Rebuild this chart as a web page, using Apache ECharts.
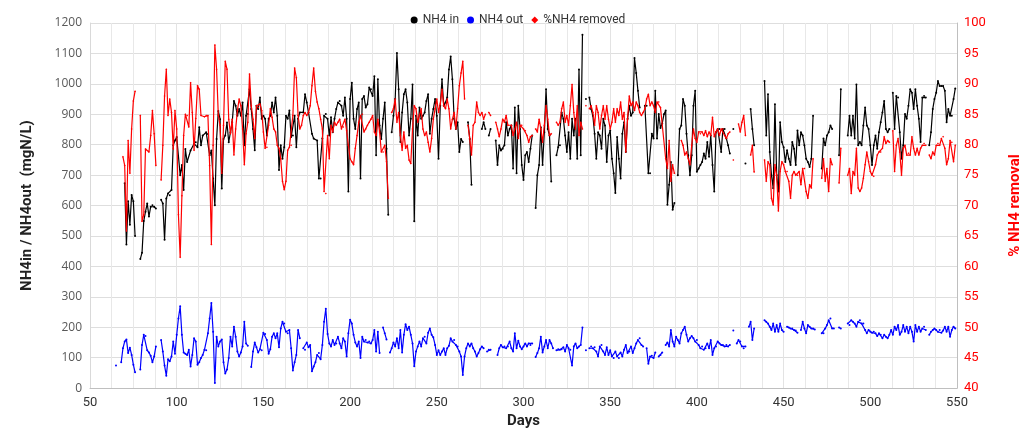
<!DOCTYPE html>
<html><head><meta charset="utf-8">
<script src="https://cdn.jsdelivr.net/npm/echarts@6/dist/echarts.min.js"></script>
<style>html,body{margin:0;padding:0;background:#fff}#c{width:1036px;height:434px}</style>
</head><body><div id="c"></div>
<script>
// ---- data: [day, value]; null = no measurement (line break) ----
const nh4In = [
[70,673],[71,472],[72,614],[73,537],[74,635],[75,614],[76,500],[77,null],
[79,424],[80,445],[81,549],[82,580],[83,607],[84,564],[85,596],[86,601],[87,596],[88,590],[89,null],
[91,619],[92,607],[93,488],[94,623],[95,640],[96,634],[97,651],[98,798],[99,814],[100,825],[102,700],[103,733],[104,651],[105,786],[106,743],[108,781],[110,803],[111,808],[112,792],[113,857],[114,798],[115,830],[117,841],[118,835],[119,765],[120,781],[121,689],[122,601],[123,819],[124,911],[125,884],[126,656],[127,819],[128,830],[129,873],[130,808],
[131,841],[132,874],[133,944],[134,928],[135,895],[136,917],[137,895],[138,939],[139,798],[140,895],[141,901],[142,982],[143,917],[144,852],[145,782],[146,928],[147,917],[148,955],[149,885],[150,895],[151,885],[152,830],[153,885],[154,895],[155,939],[156,906],[157,955],[158,895],[159,717],[160,798],[161,754],[162,792],[163,895],[164,885],[165,912],[166,825],[167,830],[168,895],[169,792],[170,885],[171,906],[173,906],[174,966],[175,939],[176,906],[178,836],[179,820],[181,814],[182,689],[183,689],[184,820],[185,895],[186,901],[187,885],[188,830],[189,890],[190,841],[191,885],[192,917],[193,939],[194,944],[195,928],[196,895],[197,955],[198,885],[199,646],[200,950],[201,1004],[202,885],[203,852],[204,917],[205,939],[206,689],[207,950],[208,960],[209,922],[210,933],[211,988],[212,982],[213,960],[214,1025],
[215,765],[216,1015],[217,863],[218,819],[219,885],[220,939],[221,787],[222,570],[223,null],[224,841],[225,895],[226,950],[227,1101],[228,982],[229,809],[230,906],[231,966],[232,982],[233,939],[234,830],[235,885],[236,998],[237,548],[238,895],[239,830],[240,922],[241,885],[242,895],[243,906],[244,944],[245,966],[246,836],[247,885],[248,917],[249,950],[250,895],[251,754],[252,928],[253,1015],[254,928],[255,939],[256,955],[257,1047],[258,1090],[259,1015],[260,885],[261,852],[262,874],[263,776],[264,819],[265,809],[266,null],[268,874],[269,819],[270,668],[271,null],[276,852],[277,874],[278,852],[279,null],[280,830],[281,852],[282,null],
[284,814],[285,733],[286,798],[287,781],[288,787],[289,798],[290,874],[291,830],[292,852],[293,863],[294,722],[295,922],[296,706],[297,928],[298,852],[299,733],[300,684],[301,765],[302,776],[303,743],[304,787],[305,830],[306,null],[307,592],[308,700],[309,733],[310,857],[311,733],[312,841],[313,982],[314,852],[315,830],[316,679],[317,null],
[319,765],[320,792],[321,798],[322,906],[323,885],[324,830],[325,776],[326,841],[327,754],[328,885],[329,830],[330,885],[331,754],[332,1047],[333,765],[334,1161],[335,null],[336,950],[337,null],
[338,955],[339,917],[340,895],[341,836],[342,754],[343,841],[344,830],[345,787],[346,885],[347,863],[348,743],[349,830],[350,847],[351,754],[352,706],[353,641],[354,825],[355,754],[356,689],[357,836],[358,874],[359,776],[360,885],[361,928],[362,895],[363,906],[364,1085],[365,1036],[366,977],[367,922],[368,null],
[370,928],[371,928],[372,706],[373,706],[374,836],[375,820],[376,977],[377,820],[378,901],[379,855],[380,870],[381,900],[382,912],[383,603],[384,668],[385,743],[386,586],[387,608],[388,null],
[389,700],[390,852],[391,863],[392,950],[393,928],[394,836],[395,765],[396,700],[397,765],[398,928],[399,977],[400,711],[401,722],[402,733],[403,743],[404,771],[405,754],[406,809],[407,760],[408,830],[409,733],[410,646],[411,841],[412,852],[413,852],[414,776],[415,852],[416,852],[417,820],[418,798],[419,771],[420,null],[421,852],[422,null],[428,738],[429,null],[431,917],[432,852],[433,798],[434,null],
[439,1009],[440,830],[441,966],[442,776],[443,700],[444,657],[445,933],[446,700],[447,646],[448,874],[449,809],[450,792],[451,743],[452,782],[453,754],[454,733],[455,809],[456,787],[457,733],[458,847],[459,798],[460,841],[461,830],[462,798],[463,754],[464,743],[465,727],[466,754],[467,895],[468,null],
[472,722],[473,820],[474,798],[475,830],[476,841],[477,863],[478,852],[479,null],[482,765],[483,982],[484,null],[487,830],[488,895],[489,830],[490,895],[491,820],[492,998],[493,798],[494,809],[495,798],[496,863],[497,922],[498,863],[499,852],[500,798],[501,733],[502,798],[503,830],[504,787],[505,841],[506,874],[507,906],[508,944],[509,852],[510,841],[511,852],[512,null],
[513,971],[514,852],[515,960],[516,955],[517,841],[518,754],[519,798],[520,901],[521,885],[522,928],[523,982],[524,971],[525,917],[526,982],[527,928],[528,885],[529,809],[530,955],[531,960],[532,955],[533,null],
[534,798],[535,841],[536,917],[537,950],[538,971],[539,1009],[540,993],[541,993],[542,993],[543,977],[544,874],[545,917],[546,895],[547,895],[548,950],[549,985]
];

const nh4Out = [
[65,74],[66,null],[68,85],[69,131],[70,153],[71,160],[72,115],[73,133],[74,109],[75,77],[76,52],[77,null],
[79,61],[80,142],[81,175],[82,171],[83,124],[84,117],[85,106],[86,85],[87,104],[88,137],[89,null],
[91,158],[92,120],[93,74],[94,41],[95,95],[96,88],[97,104],[98,153],[99,113],[100,175],[101,229],[102,269],[103,175],[104,117],[105,113],[106,109],[107,126],[108,71],[109,109],[110,164],[111,153],[112,77],[113,85],[114,99],[115,109],[116,126],[117,124],[118,180],[119,229],[120,280],[121,185],[122,17],[123,169],[124,137],[125,153],[126,160],[127,85],[128,48],[129,61],[130,99],[131,169],[132,137],[133,202],[134,169],[135,120],[136,104],[137,117],[138,137],[139,218],[140,147],[141,139],[142,null],
[143,69],[144,120],[145,150],[146,134],[147,117],[148,128],[149,124],[150,182],[151,178],[152,158],[153,113],[154,128],[155,169],[156,180],[157,164],[158,180],[159,134],[160,196],[161,218],[162,212],[163,185],[164,180],[165,191],[166,131],[167,58],[168,85],[169,109],[170,191],[171,164],[172,null],
[173,131],[174,126],[175,150],[176,134],[177,142],[178,55],[179,71],[180,85],[181,109],[182,115],[183,95],[184,142],[185,218],[186,261],[187,178],[188,147],[189,137],[190,158],[191,142],[192,147],[193,169],[194,147],[195,131],[196,164],[197,153],[198,104],[199,180],[200,225],[201,212],[202,175],[203,150],[204,137],[205,153],[206,99],[207,169],[208,153],[209,158],[210,150],[211,153],[212,147],[213,158],[214,191],[215,120],[216,185],[217,115],[218,null],
[219,199],[220,180],[221,160],[222,null],
[223,117],[224,131],[225,150],[226,137],[227,164],[228,131],[229,191],[230,117],[231,175],[232,210],[233,191],[234,202],[235,175],[236,147],[237,72],[238,120],[239,137],[240,153],[241,137],[242,164],[243,169],[244,147],[245,182],[246,196],[247,175],[248,167],[249,142],[250,109],[251,124],[252,109],[253,120],[254,131],[255,109],[256,131],[257,139],[258,164],[259,153],[260,158],[261,142],[262,137],[263,120],[264,104],[265,43],[266,104],[267,131],[268,147],[269,137],[270,147],[271,131],[272,120],[273,104],[274,115],[275,128],[276,137],[277,131],[278,null],
[279,120],[280,126],[281,126],[282,null],
[285,109],[286,131],[287,142],[288,134],[289,137],[290,131],[291,137],[292,153],[293,131],[294,120],[295,180],[296,131],[297,156],[298,137],[299,128],[300,137],[301,147],[302,137],[303,147],[304,142],[305,147],[306,null],
[307,102],[308,115],[309,131],[310,169],[311,117],[312,137],[313,158],[314,131],[315,158],[316,147],[317,131],[318,null],
[319,124],[320,128],[321,126],[322,128],[323,134],[324,120],[325,142],[326,131],[327,126],[328,74],[329,137],[330,147],[331,131],[332,137],[333,142],[334,199],[335,null],[336,124],[337,null],
[338,131],[339,137],[340,131],[341,134],[342,120],[343,104],[344,137],[345,142],[346,120],[347,109],[348,134],[349,109],[350,124],[351,104],[352,99],[353,120],[354,104],[355,99],[356,117],[357,104],[358,126],[359,142],[360,115],[361,120],[362,137],[363,115],[364,131],[365,147],[366,158],[367,164],[368,142],[369,137],[370,null],
[371,131],[372,80],[373,104],[374,106],[375,99],[376,117],[377,null],[378,104],[379,109],[380,117],[381,null],
[382,142],[383,150],[384,137],[385,191],[386,153],[387,137],[388,169],[389,158],[390,147],[391,180],[392,191],[393,202],[394,175],[395,153],[396,164],[397,171],[398,164],[399,153],[400,158],[401,142],[402,131],[403,137],[404,126],[405,131],[406,147],[407,131],[408,158],[409,109],[410,131],[411,137],[412,153],[413,147],[414,142],[415,142],[416,137],[417,142],[418,137],[419,142],[420,null],[421,189],[422,null],
[423,147],[424,158],[425,153],[426,137],[427,131],[428,137],[429,null],[430,202],[431,218],[432,158],[433,196],[434,null],
[439,223],[440,218],[441,212],[442,202],[443,191],[444,212],[445,185],[446,207],[447,185],[448,212],[449,191],[450,185],[451,null],
[452,202],[453,199],[454,196],[455,196],[456,191],[457,189],[458,182],[459,null],
[460,191],[461,218],[462,196],[463,180],[464,207],[465,202],[466,196],[467,196],[468,193],[469,null],
[472,180],[473,180],[474,196],[475,207],[476,223],[477,229],[478,196],[479,196],[480,null],
[482,199],[483,196],[484,null],
[487,212],[488,207],[489,223],[490,218],[491,212],[492,202],[493,218],[494,223],[495,212],[496,212],[497,191],[498,180],[499,191],[500,185],[501,182],[502,185],[503,180],[504,171],[505,180],[506,175],[507,164],[508,175],[509,169],[510,164],[511,175],[512,191],[513,175],[514,202],[515,191],[516,207],[517,175],[518,185],[519,207],[520,185],[521,202],[522,180],[523,202],[524,185],[525,153],[526,207],[527,185],[528,202],[529,185],[530,196],[531,202],[532,191],[533,null],
[534,175],[535,185],[536,191],[537,196],[538,191],[539,185],[540,191],[541,182],[542,189],[543,202],[544,185],[545,202],[546,169],[547,191],[548,202],[549,196]
];

const removal = [
[69,78.0],[70,76.6],[71,65.8],[72,80.7],[73,75.3],[74,82.6],[75,87.2],[76,88.8],[77,null],
[79,84.8],[80,67.4],[81,68.5],[82,79.3],[84,78.8],[85,81.5],[86,85.6],[87,81.8],[88,76.6],[89,null],
[91,74.2],[92,79.9],[93,88.0],[94,92.4],[95,84.8],[96,87.5],[97,85.3],[98,79.3],[99,85.6],[100,82.6],[101,68.5],[102,61.5],[103,71.6],[104,81.5],[105,85.0],[106,84.8],[107,82.9],[108,90.2],[109,85.3],[110,79.1],[111,84.3],[112,89.7],[113,89.1],[114,84.8],[116,84.6],[117,84.8],[118,84.8],[119,76.6],[120,63.6],[121,79.9],[122,96.4],[123,92.4],[124,84.8],[125,83.2],[126,75.3],[127,83.2],[128,93.7],[129,92.4],
[130,84.2],[131,81.8],[132,84.2],[133,78.3],[134,82.6],[135,85.6],[136,87.5],[137,86.4],[138,82.6],[139,76.7],[140,81.8],[141,83.7],[142,91.6],[143,86.4],[144,84.2],[145,81.0],[146,86.4],[147,86.1],[148,86.7],[149,85.6],[150,82.1],[151,79.4],[152,79.6],[153,83.2],[154,85.9],[155,84.5],[156,82.6],[157,82.1],[158,79.9],[159,79.4],[160,77.7],[161,74.0],[162,72.6],[163,74.0],[164,79.1],[165,79.6],[166,79.9],[167,84.8],[168,92.6],[169,91.0],[170,84.8],[171,82.6],[172,83.2],[173,84.8],[174,85.3],[175,84.8],[176,85.3],[177,86.4],[178,89.7],[179,92.6],[180,88.8],[181,87.0],[182,85.9],[183,84.2],[184,82.6],[185,72.3],[186,72.0],[187,81.5],[188,77.7],[189,83.2],[190,82.1],[191,83.7],[192,83.2],[193,83.7],[194,84.2],[195,82.6],[196,82.9],[197,84.2],[198,82.3],[199,79.9],[200,77.7],[201,77.2],[202,76.7],[203,79.4],[204,81.5],[205,83.7],[206,84.8],[207,85.0],[208,82.1],[209,82.6],[210,83.2],[211,83.7],[212,84.2],[213,84.8],[214,82.1],
[215,81.5],[216,84.2],[217,82.1],[218,78.8],[219,78.8],[220,79.9],[221,77.2],[222,71.2],[223,null],[224,85.3],[225,85.9],[226,87.5],[227,83.7],[228,85.3],[229,81.5],[230,79.1],[231,82.1],[232,79.4],[233,79.9],[234,77.5],[235,76.9],[236,82.6],[237,86.4],[238,85.9],[239,83.7],[240,84.8],[241,85.9],[242,82.6],[243,81.5],[244,82.1],[245,80.4],[246,78.8],[247,81.0],[248,84.2],[249,85.9],[250,87.5],[251,85.3],[252,86.7],[253,89.1],[254,86.4],[255,85.9],[256,87.5],[257,85.9],[258,82.6],[259,84.2],[260,85.3],[261,82.6],[262,85.9],[263,89.7],[264,91.8],[265,93.7],[266,87.5],[267,null],
[268,83.2],[269,81.0],[270,78.3],[271,83.2],[272,83.7],[273,87.0],[274,85.3],[275,84.8],[276,85.3],[277,84.2],[278,85.0],[279,null],[280,85.3],[281,84.8],[282,null],
[284,83.7],[285,82.6],[286,81.3],[287,82.6],[288,84.2],[289,83.7],[290,84.8],[291,83.2],[293,83.2],[294,81.5],[295,82.6],[296,83.7],[297,81.0],[298,83.2],[299,83.2],[300,82.6],[301,82.3],[302,81.5],[303,80.4],[304,81.3],[305,81.5],[306,null],[307,82.6],[308,82.1],[309,84.2],[310,82.6],[311,80.4],[312,83.2],[313,86.4],[314,84.2],[315,81.5],[316,81.8],[317,null],
[319,83.7],[320,83.2],[321,83.7],[322,85.9],[323,87.0],[324,83.7],[325,84.8],[326,83.2],[327,86.4],[328,89.9],[329,85.3],[330,82.6],[331,86.4],[332,81.5],[333,83.7],[334,82.6],[335,null],[336,86.4],[337,null],
[338,85.9],[339,86.4],[340,85.3],[341,83.2],[342,86.4],[343,85.3],[344,82.6],[345,84.8],[346,86.4],[347,84.2],[348,86.4],[349,84.2],[350,82.6],[351,83.7],[352,85.9],[353,83.7],[354,85.9],[355,84.8],[356,87.0],[357,84.2],[358,85.3],[359,78.8],[360,84.2],[361,88.0],[362,86.4],[363,87.0],[364,85.6],[365,87.0],[366,86.4],[367,85.3],[368,84.8],[369,85.3],[370,85.9],[371,87.5],[372,88.3],[373,86.4],[374,87.0],[375,86.4],[376,85.3],[377,87.0],[378,87.0],[379,86.1],
[382,77.7],[383,76.1],[384,80.7],[385,74.0],[386,76.7],[387,75.3],[388,null],
[391,80.7],[392,79.9],[393,78.3],[394,78.8],[395,77.7],[396,76.7],[397,79.9],[398,82.6],[399,81.0],[400,80.4],[401,82.1],[402,81.8],[403,82.1],[404,81.5],[405,82.3],[406,81.3],[407,82.1],[408,81.5],[409,84.5],[410,81.3],[411,82.1],[412,82.6],[413,81.5],[414,82.6],[415,82.6],[416,81.5],[417,81.0],[418,81.8],[419,82.1],[420,null],[421,77.5],[422,null],
[424,83.4],[425,82.1],[426,83.7],[427,84.8],[428,81.5],[429,null],[431,78.3],[432,79.9],[433,75.5],[434,null],
[439,77.5],[440,74.0],[441,77.2],[442,76.7],[443,71.2],[444,70.1],[445,76.7],[446,75.0],[447,69.1],[448,75.6],[449,77.2],[450,76.7],[451,75.6],[452,75.6],[453,74.0],[454,71.2],[455,75.0],[456,75.6],[457,75.0],[458,75.0],[459,75.6],[460,73.4],[461,76.1],[462,76.1],[463,72.3],[464,71.2],[465,73.4],[466,72.9],[467,77.7],[468,null],
[472,74.5],[473,77.7],[474,74.0],[475,76.1],[476,72.3],[477,77.7],[478,76.7],[479,null],[482,73.7],[483,79.4],[484,null],
[487,75.0],[488,76.1],[489,72.0],[490,75.6],[491,75.0],[492,79.4],[493,72.9],[494,72.3],[495,72.9],[496,74.5],[497,76.7],[498,78.8],[499,77.2],[500,75.6],[501,75.0],[502,74.8],[503,76.7],[504,78.3],[505,78.8],[506,78.8],[507,79.4],[508,81.3],[509,80.2],[510,80.7],[511,80.4],[512,null],
[513,82.3],[514,75.6],[515,79.9],[516,81.0],[517,78.8],[518,75.0],[519,79.4],[520,79.9],[521,78.3],[522,78.6],[523,78.3],[524,81.3],[525,79.4],[526,78.3],[527,79.4],[528,78.3],[529,79.4],[530,79.9],[531,80.2],[532,79.9],[533,null],
[534,78.3],[535,77.7],[536,78.8],[537,78.3],[538,79.9],[539,80.2],[540,79.9],[541,81.0],[542,81.3],[543,79.4],[544,76.7],[545,77.7],[546,80.7],[547,80.4],[548,77.2],[549,79.9]
];

const seriesNames = ['NH4 in', 'NH4 out', '%NH4 removed'];
const xRange = {min: 50, max: 550, step: 50};
const leftRange = {min: 0, max: 1200, step: 100};
const rightRange = {min: 40, max: 100, step: 5};

const toEc = arr => arr.map(p => [p[0], p[1] === null ? '-' : p[1]]);
const plain = v => String(v);
const FONT = 'Roboto, "Liberation Sans", sans-serif';

const chart = echarts.init(document.getElementById('c'), null, {renderer: 'canvas'});
chart.setOption({
  animation: false,
  backgroundColor: '#ffffff',
  textStyle: {fontFamily: FONT},
  grid: {left: 90, right: 79, top: 23, bottom: 42, containLabel: false},
  legend: {
    top: 9, left: 'center', itemWidth: 7, itemHeight: 7, itemGap: 8,
    textStyle: {fontSize: 12, color: '#333', fontFamily: FONT},
    data: [
      {name: seriesNames[0], icon: 'circle'},
      {name: seriesNames[1], icon: 'circle'},
      {name: seriesNames[2], icon: 'diamond'}
    ]
  },
  xAxis: {
    type: 'value', min: xRange.min, max: xRange.max, interval: xRange.step,
    name: 'Days', nameLocation: 'middle', nameGap: 25,
    nameTextStyle: {fontWeight: 'bold', fontSize: 15, color: '#222', fontFamily: FONT},
    axisLine: {show: true, lineStyle: {color: '#bfbfbf', width: 1}},
    axisTick: {show: false},
    axisLabel: {fontSize: 13, color: '#333', margin: 8, fontFamily: FONT, formatter: plain},
    splitLine: {show: true, lineStyle: {color: '#e3e3e3', width: 1}},
    minorTick: {show: false, splitNumber: 4},
    minorSplitLine: {show: true, lineStyle: {color: '#e8e8e8', width: 1}}
  },
  yAxis: [
    {
      type: 'value', min: leftRange.min, max: leftRange.max, interval: leftRange.step,
      name: 'NH4in / NH4out  (mgN/L)', nameLocation: 'middle', nameGap: 55, nameRotate: 90,
      nameTextStyle: {fontWeight: 'bold', fontSize: 15, color: '#222', fontFamily: FONT},
      axisLine: {show: true, lineStyle: {color: '#d9d9d9'}},
      axisTick: {show: false},
      axisLabel: {fontSize: 12, color: '#595959', margin: 8, fontFamily: '"Open Sans", sans-serif', formatter: plain},
      splitLine: {show: true, lineStyle: {color: '#dedede', width: 1}}
    },
    {
      type: 'value', position: 'right', min: rightRange.min, max: rightRange.max, interval: rightRange.step,
      name: '% NH4 removal', nameLocation: 'middle', nameGap: 51, nameRotate: 90,
      nameTextStyle: {fontWeight: 'bold', fontSize: 15, color: '#ff0000', fontFamily: FONT},
      axisLine: {show: true, lineStyle: {color: '#bfbfbf'}},
      axisTick: {show: false},
      axisLabel: {fontSize: 13, color: '#ff0000', margin: 7, fontFamily: FONT, formatter: plain},
      splitLine: {show: false}
    }
  ],
  series: [
    {
      name: seriesNames[0], type: 'line', yAxisIndex: 0, data: toEc(nh4In),
      symbol: 'circle', symbolSize: 2, showSymbol: true, connectNulls: false,
      lineStyle: {color: '#000000', width: 1.2}, itemStyle: {color: '#000000'}, z: 2
    },
    {
      name: seriesNames[1], type: 'line', yAxisIndex: 0, data: toEc(nh4Out),
      symbol: 'circle', symbolSize: 2, showSymbol: true, connectNulls: false,
      lineStyle: {color: '#0000ff', width: 1.2}, itemStyle: {color: '#0000ff'}, z: 3
    },
    {
      name: seriesNames[2], type: 'line', yAxisIndex: 1, data: toEc(removal),
      symbol: 'diamond', symbolSize: 2, showSymbol: true, connectNulls: false,
      lineStyle: {color: '#ff0000', width: 1.2}, itemStyle: {color: '#ff0000'}, z: 4
    }
  ]
});
</script>
</body></html>
